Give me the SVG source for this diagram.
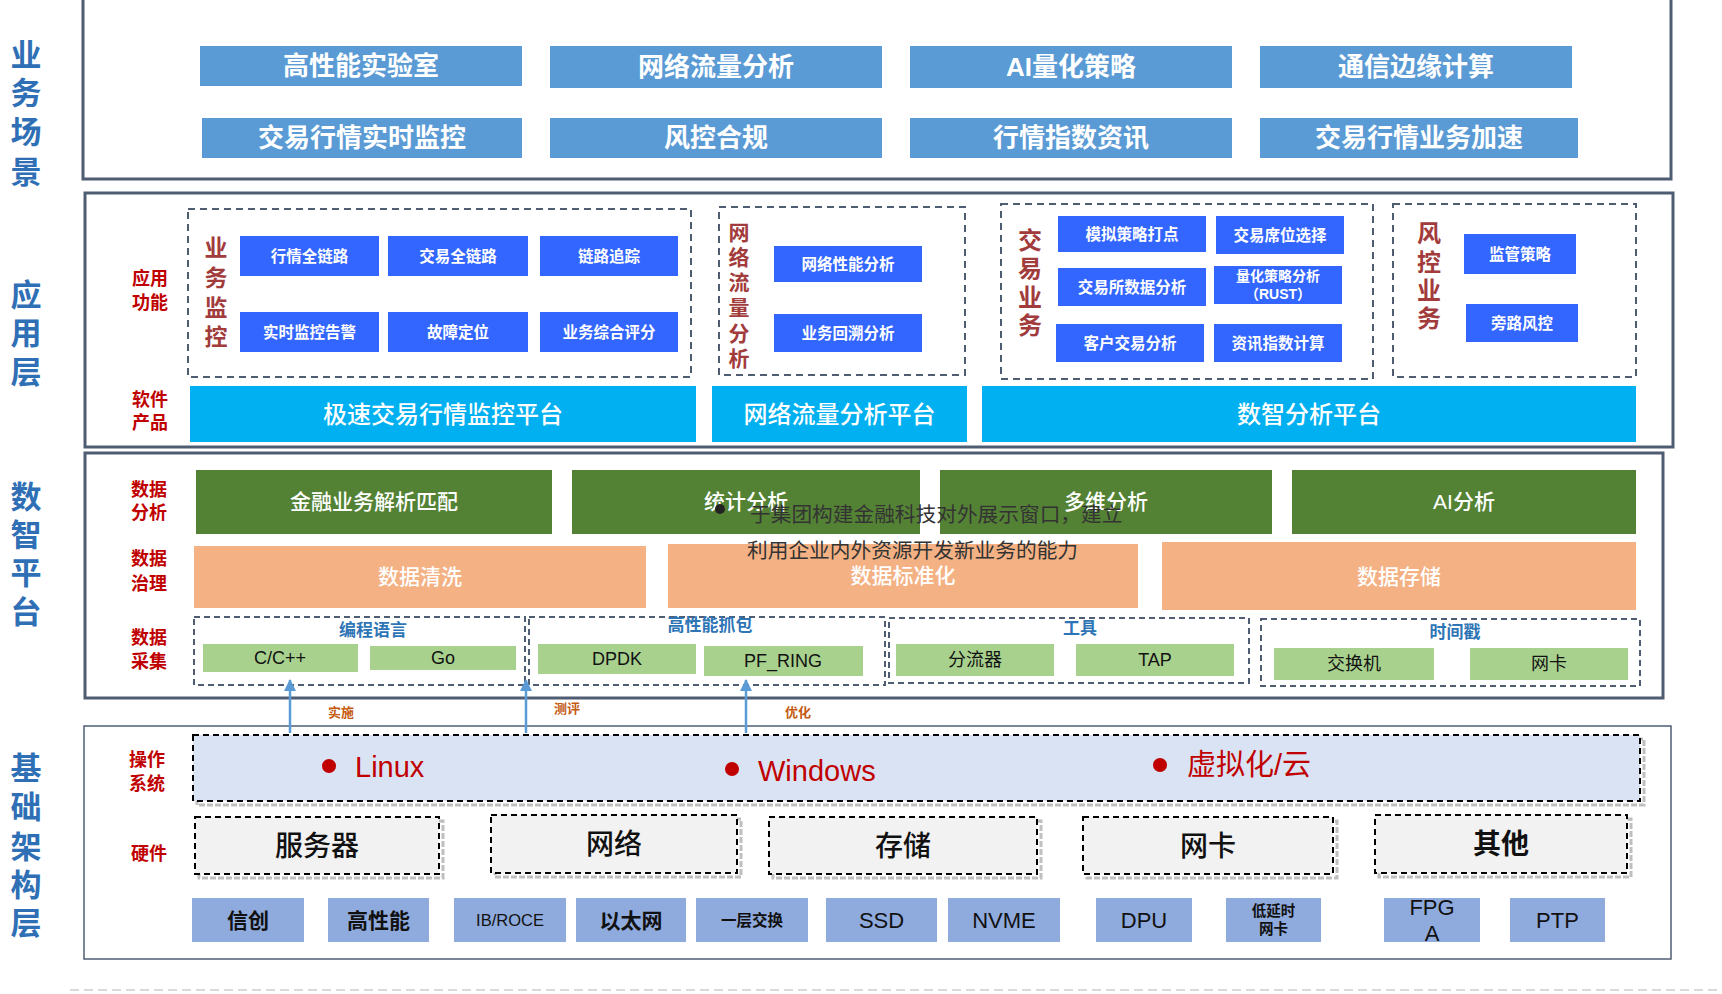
<svg xmlns="http://www.w3.org/2000/svg" width="1722" height="994" viewBox="0 0 1722 994">
<defs>
<style>
text{font-family:"Liberation Sans","Noto Sans CJK SC",sans-serif;text-anchor:middle;dominant-baseline:central}
.sec{fill:#fff;stroke:#4f5d73;stroke-width:3}
.sec2{fill:#fff;stroke:#4f5d73;stroke-width:1.5}
.side{fill:#2f6fb5;font-size:31px;font-weight:700}
.red{fill:#c00000;font-size:18px;font-weight:700}
.dred{fill:#a23b3b;font-weight:700}
.scn{fill:#5b9bd5}
.scnt{fill:#fff;font-size:26px;font-weight:700}
.blu{fill:#3366ff}
.blut{fill:#fff;font-size:15.5px;font-weight:700}
.blus{fill:#fff;font-size:14px;font-weight:700}
.cyan{fill:#00b0f0}
.cyant{fill:#fff;font-size:24px;font-weight:500}
.dash{fill:none;stroke:#4f5d73;stroke-width:2;stroke-dasharray:7 5}
.dash2{fill:none;stroke:#4f5d73;stroke-width:2;stroke-dasharray:6 4}
.grn{fill:#548235}
.org{fill:#f4b183}
.wt{fill:#fff;font-size:21px;font-weight:500}
.lg{fill:#a9d18e}
.lgt{fill:#111;font-size:18px}
.cat{fill:#2e75b6;font-size:17px;font-weight:700}
.arr{stroke:#5b9bd5;stroke-width:2.5;fill:none}
.arl{fill:#c55a11;font-size:13px;font-weight:700}
.os{fill:#dae3f3;stroke:#000;stroke-width:2;stroke-dasharray:6 4}
.hw{fill:#f2f2f2;stroke:#000;stroke-width:2;stroke-dasharray:6 4}
.shd{fill:none;stroke:#bfbfbf;stroke-width:3;stroke-dasharray:6 2}
.ost{fill:#c00000;font-size:29px;text-anchor:start}
.hwt{fill:#111;font-size:28px;font-weight:500}
.sb{fill:#8faadc}
.sbt{fill:#111;font-size:21px;font-weight:700}
.sbl{fill:#111;font-size:22px;font-weight:400}
.sbs{fill:#111;font-size:14.5px;font-weight:700}
.ovl{fill:#333;font-size:20.7px;text-anchor:start;font-family:"Noto Sans CJK SC",sans-serif}
</style>
<marker id="ah" viewBox="0 0 12 12" refX="11" refY="6" markerWidth="12" markerHeight="12" markerUnits="userSpaceOnUse" orient="auto">
<path d="M0,0 L12,6 L0,12 Z" fill="#5b9bd5"/>
</marker>
</defs>

<!-- Section: 业务场景 -->
<g id="sec-scene">
<rect class="sec" x="83" y="-3" width="1588" height="182"/>
<text class="side" x="26" y="55">业</text><text class="side" x="26" y="93">务</text><text class="side" x="26" y="132">场</text><text class="side" x="26" y="172">景</text>
</g>
<g id="scene-1"><rect class="scn" x="200" y="46" width="322" height="40"/><text class="scnt" x="361" y="66">高性能实验室</text></g>
<g id="scene-2"><rect class="scn" x="550" y="46" width="332" height="42"/><text class="scnt" x="716" y="67">网络流量分析</text></g>
<g id="scene-3"><rect class="scn" x="910" y="46" width="322" height="42"/><text class="scnt" x="1071" y="67">AI量化策略</text></g>
<g id="scene-4"><rect class="scn" x="1260" y="46" width="312" height="42"/><text class="scnt" x="1416" y="67">通信边缘计算</text></g>
<g id="scene-5"><rect class="scn" x="202" y="118" width="320" height="40"/><text class="scnt" x="362" y="138">交易行情实时监控</text></g>
<g id="scene-6"><rect class="scn" x="550" y="118" width="332" height="40"/><text class="scnt" x="716" y="138">风控合规</text></g>
<g id="scene-7"><rect class="scn" x="910" y="118" width="322" height="40"/><text class="scnt" x="1071" y="138">行情指数资讯</text></g>
<g id="scene-8"><rect class="scn" x="1260" y="118" width="318" height="40"/><text class="scnt" x="1419" y="138">交易行情业务加速</text></g>

<!-- Section: 应用层 -->
<g id="sec-app">
<rect class="sec" x="85" y="193" width="1588" height="254"/>
<text class="side" x="26" y="295">应</text><text class="side" x="26" y="333">用</text><text class="side" x="26" y="372">层</text>
<text class="red" x="150" y="279">应用</text><text class="red" x="150" y="303">功能</text>
<text class="red" x="150" y="400">软件</text><text class="red" x="150" y="423">产品</text>
</g>
<g id="grp-monitor">
<rect class="dash" x="188" y="209" width="503" height="168"/>
<g class="dred" style="font-size:23px"><text x="216" y="248">业</text><text x="216" y="278">务</text><text x="216" y="308">监</text><text x="216" y="337">控</text></g>
</g>
<g id="app-1"><rect class="blu" x="240" y="236" width="139" height="40"/><text class="blut" x="309.5" y="256">行情全链路</text></g>
<g id="app-2"><rect class="blu" x="388" y="236" width="140" height="40"/><text class="blut" x="458" y="256">交易全链路</text></g>
<g id="app-3"><rect class="blu" x="540" y="236" width="138" height="40"/><text class="blut" x="609" y="256">链路追踪</text></g>
<g id="app-4"><rect class="blu" x="240" y="312" width="139" height="40"/><text class="blut" x="309.5" y="332">实时监控告警</text></g>
<g id="app-5"><rect class="blu" x="388" y="312" width="140" height="40"/><text class="blut" x="458" y="332">故障定位</text></g>
<g id="app-6"><rect class="blu" x="540" y="312" width="138" height="40"/><text class="blut" x="609" y="332">业务综合评分</text></g>
<g id="plat-1"><rect class="cyan" x="190" y="386" width="506" height="56"/><text class="cyant" x="443" y="414">极速交易行情监控平台</text></g>

<g id="grp-netflow">
<rect class="dash" x="719" y="207" width="246" height="168"/>
<g class="dred" style="font-size:21px"><text x="739" y="232">网</text><text x="739" y="257">络</text><text x="739" y="282">流</text><text x="739" y="307">量</text><text x="739" y="333">分</text><text x="739" y="358">析</text></g>
</g>
<g id="app-7"><rect class="blu" x="774" y="246" width="148" height="36"/><text class="blut" x="848" y="264">网络性能分析</text></g>
<g id="app-8"><rect class="blu" x="774" y="314" width="148" height="38"/><text class="blut" x="848" y="333">业务回溯分析</text></g>
<g id="plat-2"><rect class="cyan" x="712" y="386" width="255" height="56"/><text class="cyant" x="839.5" y="414">网络流量分析平台</text></g>

<g id="grp-trade">
<rect class="dash" x="1001" y="204" width="372" height="175"/>
<g class="dred" style="font-size:24px"><text x="1030" y="240">交</text><text x="1030" y="268">易</text><text x="1030" y="297">业</text><text x="1030" y="325">务</text></g>
</g>
<g id="app-9"><rect class="blu" x="1058" y="216" width="148" height="36"/><text class="blut" x="1132" y="234">模拟策略打点</text></g>
<g id="app-10"><rect class="blu" x="1216" y="216" width="128" height="38"/><text class="blut" x="1280" y="235">交易席位选择</text></g>
<g id="app-11"><rect class="blu" x="1058" y="268" width="148" height="38"/><text class="blut" x="1132" y="287">交易所数据分析</text></g>
<g id="app-12"><rect class="blu" x="1214" y="266" width="128" height="38"/><text class="blus" x="1278" y="276">量化策略分析</text><text class="blus" x="1278" y="294">（RUST）</text></g>
<g id="app-13"><rect class="blu" x="1056" y="324" width="148" height="38"/><text class="blut" x="1130" y="343">客户交易分析</text></g>
<g id="app-14"><rect class="blu" x="1214" y="324" width="128" height="38"/><text class="blut" x="1278" y="343">资讯指数计算</text></g>

<g id="grp-risk">
<rect class="dash" x="1393" y="204" width="243" height="173"/>
<g class="dred" style="font-size:24px"><text x="1429" y="233">风</text><text x="1429" y="262">控</text><text x="1429" y="290">业</text><text x="1429" y="318">务</text></g>
</g>
<g id="app-15"><rect class="blu" x="1464" y="234" width="112" height="40"/><text class="blut" x="1520" y="254">监管策略</text></g>
<g id="app-16"><rect class="blu" x="1466" y="304" width="112" height="38"/><text class="blut" x="1522" y="323">旁路风控</text></g>
<g id="plat-3"><rect class="cyan" x="982" y="386" width="654" height="56"/><text class="cyant" x="1309" y="414">数智分析平台</text></g>

<!-- Section: 数智平台 -->
<g id="sec-data">
<rect class="sec" x="85" y="453" width="1578" height="245"/>
<text class="side" x="26" y="497">数</text><text class="side" x="26" y="535">智</text><text class="side" x="26" y="573">平</text><text class="side" x="26" y="612">台</text>
<text class="red" x="149" y="490">数据</text><text class="red" x="149" y="513">分析</text>
<text class="red" x="149" y="559">数据</text><text class="red" x="149" y="584">治理</text>
<text class="red" x="149" y="638">数据</text><text class="red" x="149" y="662">采集</text>
</g>
<g id="ana-1"><rect class="grn" x="196" y="470" width="356" height="64"/><text class="wt" x="374" y="501">金融业务解析匹配</text></g>
<g id="ana-2"><rect class="grn" x="572" y="470" width="348" height="64"/><text class="wt" x="746" y="501">统计分析</text></g>
<g id="ana-3"><rect class="grn" x="940" y="470" width="332" height="64"/><text class="wt" x="1106" y="501">多维分析</text></g>
<g id="ana-4"><rect class="grn" x="1292" y="470" width="344" height="64"/><text class="wt" x="1464" y="501">AI分析</text></g>
<g id="gov-1"><rect class="org" x="194" y="546" width="452" height="62"/><text class="wt" x="420" y="576">数据清洗</text></g>
<g id="gov-2"><rect class="org" x="668" y="544" width="470" height="64"/><text class="wt" x="903" y="575">数据标准化</text></g>
<g id="gov-3"><rect class="org" x="1162" y="542" width="474" height="68"/><text class="wt" x="1399" y="576">数据存储</text></g>

<g id="col-lang">
<rect class="dash2" x="194" y="617" width="331" height="68"/>
<text class="cat" x="373" y="630">编程语言</text>
<rect class="lg" x="203" y="644" width="155" height="28"/><text class="lgt" x="280" y="658">C/C++</text>
<rect class="lg" x="370" y="646" width="146" height="24"/><text class="lgt" x="443" y="658">Go</text>
</g>
<g id="col-cap">
<rect class="dash2" x="529" y="617" width="356" height="68"/>
<text class="cat" x="710" y="625">高性能抓包</text>
<rect class="lg" x="538" y="644" width="158" height="30"/><text class="lgt" x="617" y="659">DPDK</text>
<rect class="lg" x="704" y="646" width="159" height="30"/><text class="lgt" x="783" y="661">PF_RING</text>
</g>
<g id="col-tool">
<rect class="dash2" x="889" y="618" width="360" height="65"/>
<text class="cat" x="1080" y="628">工具</text>
<rect class="lg" x="896" y="644" width="158" height="32"/><text class="lgt" x="975" y="660">分流器</text>
<rect class="lg" x="1076" y="644" width="158" height="32"/><text class="lgt" x="1155" y="660">TAP</text>
</g>
<g id="col-ts">
<rect class="dash2" x="1261" y="619" width="379" height="67"/>
<text class="cat" x="1455" y="632">时间戳</text>
<rect class="lg" x="1274" y="648" width="160" height="32"/><text class="lgt" x="1354" y="664">交换机</text>
<rect class="lg" x="1470" y="648" width="158" height="32"/><text class="lgt" x="1549" y="664">网卡</text>
</g>

<!-- Section: 基础架构层 -->
<g id="sec-infra">
<rect class="sec2" x="84" y="726" width="1587" height="233"/>
<text class="side" x="26" y="768">基</text><text class="side" x="26" y="807">础</text><text class="side" x="26" y="847">架</text><text class="side" x="26" y="885">构</text><text class="side" x="26" y="923">层</text>
<text class="red" x="147" y="760">操作</text><text class="red" x="147" y="784">系统</text>
<text class="red" x="149" y="854">硬件</text>
</g>

<!-- connectors -->
<g id="connectors">
<line class="arr" x1="290" y1="733" x2="290" y2="680" marker-end="url(#ah)"/>
<line class="arr" x1="526" y1="733" x2="526" y2="680" marker-end="url(#ah)"/>
<line class="arr" x1="746" y1="733" x2="746" y2="680" marker-end="url(#ah)"/>
<text class="arl" x="341" y="712">实施</text>
<text class="arl" x="567" y="708">测评</text>
<text class="arl" x="798" y="712">优化</text>
</g>

<g id="os">
<rect class="shd" x="197" y="739" width="1447" height="66"/>
<rect class="os" x="193" y="735" width="1447" height="66"/>
<circle cx="329" cy="766" r="7" fill="#c00000"/><text class="ost" x="355" y="767">Linux</text>
<circle cx="732" cy="769" r="7" fill="#c00000"/><text class="ost" x="758" y="771">Windows</text>
<circle cx="1160" cy="765" r="7" fill="#c00000"/><text class="ost" x="1187" y="765">虚拟化/云</text>
</g>
<g id="hw-1"><rect class="shd" x="199" y="821" width="244" height="57"/><rect class="hw" x="195" y="817" width="244" height="57"/><text class="hwt" x="317" y="846">服务器</text></g>
<g id="hw-2"><rect class="shd" x="495" y="819" width="246" height="58"/><rect class="hw" x="491" y="815" width="246" height="58"/><text class="hwt" x="614" y="844">网络</text></g>
<g id="hw-3"><rect class="shd" x="773" y="821" width="268" height="57"/><rect class="hw" x="769" y="817" width="268" height="57"/><text class="hwt" x="903" y="846">存储</text></g>
<g id="hw-4"><rect class="shd" x="1087" y="821" width="250" height="57"/><rect class="hw" x="1083" y="817" width="250" height="57"/><text class="hwt" x="1208" y="846">网卡</text></g>
<g id="hw-5"><rect class="shd" x="1379" y="819" width="252" height="58"/><rect class="hw" x="1375" y="815" width="252" height="58"/><text class="hwt" x="1501" y="844" style="font-weight:700">其他</text></g>

<g id="hc-1"><rect class="sb" x="192" y="898" width="112" height="44"/><text class="sbt" x="248" y="920">信创</text></g>
<g id="hc-2"><rect class="sb" x="328" y="898" width="101" height="44"/><text class="sbt" x="378.5" y="920">高性能</text></g>
<g id="hc-3"><rect class="sb" x="454" y="898" width="112" height="44"/><text class="sbl" x="510" y="920" style="font-size:16.5px">IB/ROCE</text></g>
<g id="hc-4"><rect class="sb" x="576" y="898" width="110" height="44"/><text class="sbt" x="631" y="920">以太网</text></g>
<g id="hc-5"><rect class="sb" x="696" y="898" width="112" height="44"/><text class="sbs" x="752" y="920" style="font-size:15.5px">一层交换</text></g>
<g id="hc-6"><rect class="sb" x="826" y="898" width="111" height="44"/><text class="sbl" x="881.5" y="920">SSD</text></g>
<g id="hc-7"><rect class="sb" x="948" y="898" width="112" height="44"/><text class="sbl" x="1004" y="920">NVME</text></g>
<g id="hc-8"><rect class="sb" x="1096" y="898" width="96" height="44"/><text class="sbl" x="1144" y="920">DPU</text></g>
<g id="hc-9"><rect class="sb" x="1226" y="898" width="95" height="44"/><text class="sbs" x="1273.5" y="911">低延时</text><text class="sbs" x="1273.5" y="929">网卡</text></g>
<g id="hc-10"><rect class="sb" x="1384" y="898" width="96" height="44"/><text class="sbl" x="1432" y="907">FPG</text><text class="sbl" x="1432" y="933">A</text></g>
<g id="hc-11"><rect class="sb" x="1510" y="898" width="95" height="44"/><text class="sbl" x="1557.5" y="920">PTP</text></g>

<line x1="70" y1="990" x2="1722" y2="990" stroke="#d9d9d9" stroke-width="2" stroke-dasharray="9 5"/>

<!-- overlay text -->
<g id="overlay">
<circle cx="720" cy="509" r="5" fill="#222"/>
<text class="ovl" x="750" y="513">于集团构建金融科技对外展示窗口，建立</text>
<text class="ovl" x="747" y="549">利用企业内外资源开发新业务的能力</text>
</g>
</svg>
